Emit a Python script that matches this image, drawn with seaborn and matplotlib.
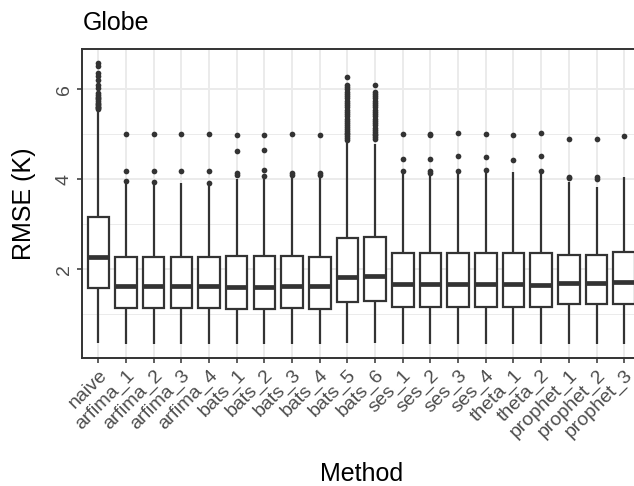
import matplotlib
matplotlib.use("Agg")
import matplotlib.pyplot as plt
import seaborn as sns
import pandas as pd

methods = ["naive", "arfima_1", "arfima_2", "arfima_3", "arfima_4",
           "bats_1", "bats_2", "bats_3", "bats_4", "bats_5", "bats_6",
           "ses_1", "ses_2", "ses_3", "ses_4", "theta_1", "theta_2",
           "prophet_1", "prophet_2", "prophet_3"]

whisker_low = [0.36, 0.35, 0.35, 0.35, 0.35, 0.35, 0.35, 0.35, 0.35, 0.36, 0.36,
               0.35, 0.35, 0.35, 0.35, 0.35, 0.35, 0.35, 0.35, 0.35]
q1 = [1.59, 1.15, 1.15, 1.15, 1.15, 1.13, 1.13, 1.14, 1.13, 1.27, 1.30,
      1.16, 1.16, 1.16, 1.16, 1.16, 1.16, 1.24, 1.24, 1.24]
median = [2.27, 1.62, 1.62, 1.62, 1.62, 1.61, 1.61, 1.62, 1.62, 1.83, 1.85,
          1.67, 1.67, 1.67, 1.67, 1.67, 1.66, 1.69, 1.69, 1.73]
q3 = [3.16, 2.27, 2.27, 2.27, 2.27, 2.29, 2.29, 2.29, 2.27, 2.70, 2.71,
      2.37, 2.37, 2.37, 2.37, 2.37, 2.37, 2.32, 2.32, 2.38]
whisker_high = [5.54, 3.93, 3.93, 3.93, 3.90, 4.02, 4.02, 4.05, 4.05, 4.80, 4.78,
                4.15, 4.14, 4.17, 4.18, 4.17, 4.17, 3.95, 3.84, 4.06]

outliers = {
    "naive": [5.56, 5.58, 5.60, 5.62, 5.65, 5.68, 5.71, 5.74, 5.78, 5.81, 5.84,
              5.87, 5.93, 6.04, 6.10, 6.21, 6.30, 6.37, 6.53, 6.59],
    "arfima_1": [3.96, 4.18, 5.01],
    "arfima_2": [3.95, 4.18, 5.01],
    "arfima_3": [4.19, 5.02],
    "arfima_4": [3.93, 4.19, 5.01],
    "bats_1": [4.10, 4.14, 4.64, 4.98],
    "bats_2": [4.07, 4.22, 4.65, 4.98],
    "bats_3": [4.10, 4.14, 5.01],
    "bats_4": [4.10, 4.14, 4.98],
    "bats_5": [4.88, 4.92, 4.96, 5.00, 5.04, 5.08, 5.12, 5.16, 5.20, 5.25, 5.30,
               5.35, 5.40, 5.45, 5.50, 5.55, 5.60, 5.65, 5.70, 5.75, 5.80, 5.85,
               5.90, 5.95, 6.00, 6.05, 6.10, 6.27],
    "bats_6": [4.90, 4.94, 4.98, 5.02, 5.06, 5.10, 5.15, 5.20, 5.25, 5.30, 5.35,
               5.40, 5.45, 5.50, 5.55, 5.60, 5.65, 5.70, 5.75, 5.80, 5.85, 5.90,
               5.95, 6.10],
    "ses_1": [4.18, 4.46, 5.01],
    "ses_2": [4.15, 4.18, 4.45, 4.98, 5.01],
    "ses_3": [4.19, 4.51, 5.04],
    "ses_4": [4.21, 4.49, 5.01],
    "theta_1": [4.44, 4.99],
    "theta_2": [4.19, 4.51, 5.04],
    "prophet_1": [4.03, 4.06, 4.89],
    "prophet_2": [4.02, 4.05, 4.89],
    "prophet_3": [4.96],
}

# long tables built from the arrays above
box_rows = []
for i, m in enumerate(methods):
    for v in (whisker_low[i], q1[i], median[i], q3[i], whisker_high[i]):
        box_rows.append({"Method": m, "RMSE": v})
box_df = pd.DataFrame(box_rows)
out_df = pd.DataFrame([{"Method": m, "RMSE": v}
                       for m in methods for v in outliers[m]])

sns.set_theme(style="white")
plt.rcParams["font.family"] = ["Liberation Sans", "DejaVu Sans"]

DARK = "#333333"
fig = plt.figure(figsize=(6.34, 4.86), dpi=100)
ax = fig.add_axes([81.7 / 634, (486 - 358) / 486, 559.1 / 634, 309 / 486])

sns.boxplot(data=box_df, x="Method", y="RMSE", order=methods, ax=ax,
            whis=(0, 100), showfliers=False, width=0.78, saturation=1,
            color="white", linecolor=DARK, linewidth=1.6, showcaps=False,
            medianprops={"linewidth": 3.4, "color": DARK})
sns.stripplot(data=out_df, x="Method", y="RMSE", order=methods, ax=ax,
              jitter=False, color=DARK, size=4.1, linewidth=0, zorder=3)

ax.set_xlim(-0.6, len(methods) - 0.4)
ax.set_ylim(0.03, 6.90)
ax.set_yticks([2, 4, 6])
ax.set_yticks([1, 3, 5], minor=True)
ax.set_axisbelow(True)
ax.grid(which="major", axis="both", color="#EBEBEB", linewidth=1.4)
ax.grid(which="minor", axis="y", color="#EBEBEB", linewidth=0.7)

for s in ax.spines.values():
    s.set_color(DARK)
    s.set_linewidth(1.4)

ax.tick_params(axis="both", which="major", length=3.6, width=1.1, color=DARK,
               labelcolor="#4D4D4D", labelsize=14, pad=2.5)
ax.tick_params(axis="both", which="minor", length=0)
ax.tick_params(axis="x", bottom=True)
ax.tick_params(axis="y", left=True)
plt.setp(ax.get_yticklabels(), rotation=90, va="center", ha="center")
ax.tick_params(axis="y", pad=9)
plt.setp(ax.get_xticklabels(), rotation=45, ha="right", va="top",
         rotation_mode="anchor")

ax.set_xlabel("Method", fontsize=18, color="black")
ax.xaxis.set_label_coords(0.5, (358 - 480.7) / 309)
ax.xaxis.label.set_va("baseline")
ax.set_ylabel("RMSE (K)", fontsize=18, color="black")
ax.yaxis.set_label_coords((24 - 81.7) / 559.1, 0.5)
ax.yaxis.label.set_va("center")

fig.text(82.5 / 634, 1 - 30 / 486, "Globe", fontsize=18, color="black",
         ha="left", va="baseline")

fig.savefig("out.png", dpi=100, facecolor="white")
